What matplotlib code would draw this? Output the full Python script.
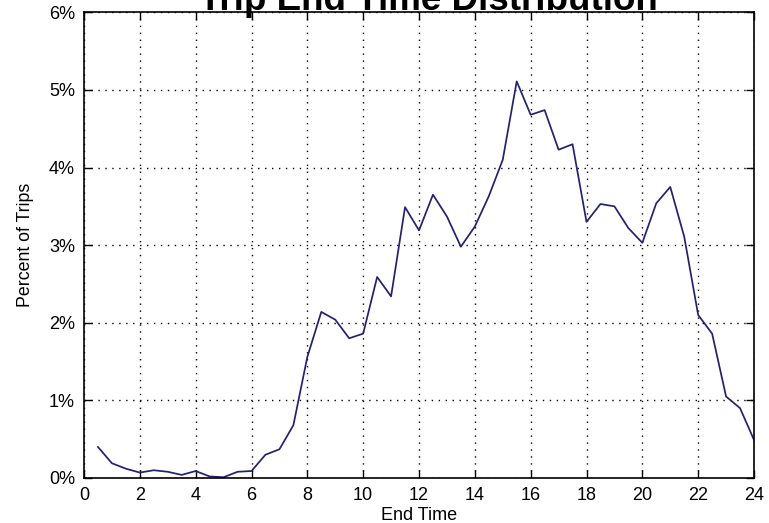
import matplotlib
matplotlib.use("Agg")
import matplotlib.pyplot as plt
from matplotlib.ticker import FuncFormatter

hours = [0.5, 1.0, 1.5, 2.0, 2.5, 3.0, 3.5, 4.0, 4.5, 5.0, 5.5, 6.0,
         6.5, 7.0, 7.5, 8.0, 8.5, 9.0, 9.5, 10.0, 10.5, 11.0, 11.5, 12.0,
         12.5, 13.0, 13.5, 14.0, 14.5, 15.0, 15.5, 16.0, 16.5, 17.0, 17.5, 18.0,
         18.5, 19.0, 19.5, 20.0, 20.5, 21.0, 21.5, 22.0, 22.5, 23.0, 23.5, 24.0]
pct_trips = [0.40, 0.19, 0.12, 0.07, 0.10, 0.08, 0.04, 0.09, 0.02, 0.01, 0.08, 0.09,
             0.30, 0.37, 0.68, 1.56, 2.14, 2.04, 1.80, 1.86, 2.59, 2.34, 3.49, 3.19,
             3.65, 3.37, 2.98, 3.24, 3.63, 4.10, 5.11, 4.68, 4.74, 4.23, 4.30, 3.30,
             3.53, 3.50, 3.22, 3.03, 3.54, 3.75, 3.11, 2.10, 1.86, 1.05, 0.90, 0.49]
x_ticks = list(range(0, 25, 2))
y_ticks = [0, 1, 2, 3, 4, 5, 6]

plt.rcParams['font.family'] = ['Liberation Sans', 'DejaVu Sans']

fig = plt.figure(figsize=(7.69, 5.23), dpi=100)
ax = fig.add_axes([84 / 769, 1 - 478 / 523, 670 / 769, (478 - 12.3) / 523])

ax.plot(hours, pct_trips, color='#22226e', lw=1.25)

ax.set_xlim(0, 24)
ax.set_ylim(0, 6)
ax.set_xticks(x_ticks)
ax.set_yticks(y_ticks)
ax.yaxis.set_major_formatter(FuncFormatter(lambda v, p: f"{int(v)}%"))

ax.grid(True, color='black', linestyle=(0, (1, 4)), linewidth=1.0)
ax.tick_params(direction='in', length=6, width=1, top=True, right=True,
               labelsize=13, pad=6.5, colors='black')
for s in ax.spines.values():
    s.set_linewidth(1.2)

ax.set_xlabel('End Time', fontsize=13, labelpad=2.5)
ax.set_ylabel('Percent of Trips', fontsize=12.8, labelpad=11)

fig.text(428 / 769, 1 - 9.5 / 523, 'Trip End Time Distribution',
         fontsize=26.5, fontweight='bold', ha='center', va='baseline')

fig.savefig('out.png', dpi=100, facecolor='white')
